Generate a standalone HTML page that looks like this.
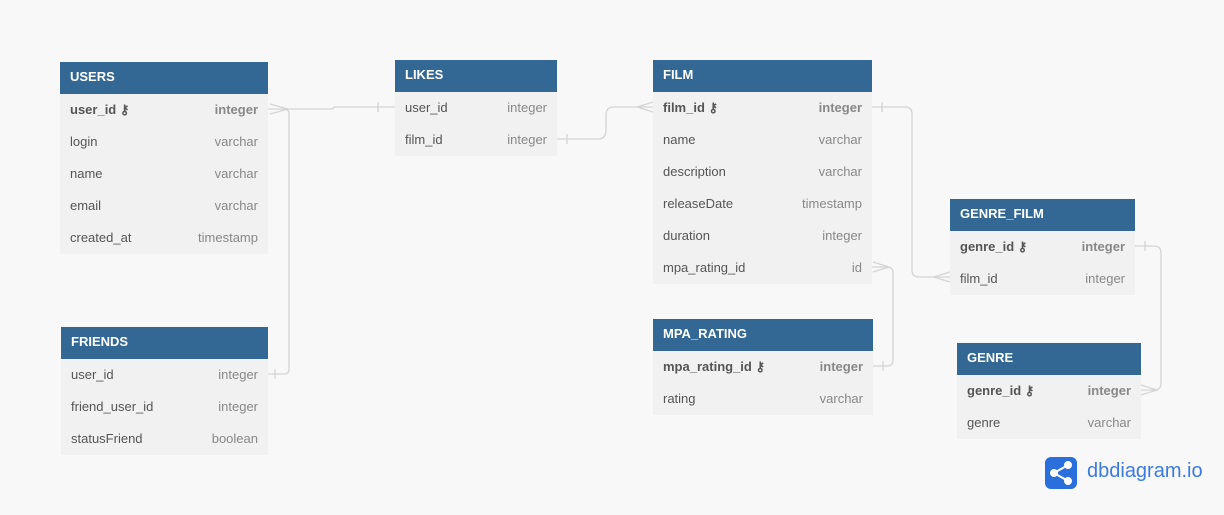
<!DOCTYPE html><html><head><style>
body{margin:0;width:1224px;height:515px;background:#f8f8f9;font-family:"Liberation Sans",sans-serif;position:relative;overflow:hidden}
.t{position:absolute;background:#f1f1f1}
.h{background:#336894;color:#fff;font-weight:bold;font-size:13px;height:32px;line-height:30px;padding-left:10px}
.r{height:32px;line-height:31px;font-size:13px;color:#555;padding:0 10px;display:flex;justify-content:space-between}
.r span:last-child{color:#888}
.b span{font-weight:bold}
.b span:first-child{color:#555}
svg{position:absolute;left:0;top:0}
</style></head><body>
<svg width="1224" height="515" fill="none" stroke="#d4d4d4" stroke-width="1.3">
<path d="M268 109 H330 Q334 109 334 107 H395"/><path d="M378 102 v10"/>
<path d="M270 104 L288 109 L270 114"/>
<path d="M268 374 H284 Q289 374 289 369 V114 Q289 109 284 109"/><path d="M275 369 v10"/>
<path d="M557 139 H598 Q606 139 606 130 V115 Q606 107 614 107 H653"/><path d="M567 134 v10"/><path d="M653 102 L637 107 L653 112"/>
<path d="M872 107 H905 Q912 107 912 114 V270 Q912 277 919 277 H950"/><path d="M882 102 v10"/><path d="M950 272 L934 277 L950 282"/>
<path d="M872 267 H887 Q893 267 893 273 V360 Q893 366 887 366 H873"/><path d="M873 262 L889 267 L873 272"/><path d="M883 361 v10"/>
<path d="M1135 246 H1154 Q1161 246 1161 253 V383 Q1161 390 1154 390 H1141"/><path d="M1145 241 v10"/><path d="M1141 385 L1157 390 L1141 395"/>
</svg>
<div class="t" style="left:60px;top:62px;width:208px"><div class="h">USERS</div>
<div class="r b"><span>user_id ⚷</span><span>integer</span></div><div class="r"><span>login</span><span>varchar</span></div><div class="r"><span>name</span><span>varchar</span></div><div class="r"><span>email</span><span>varchar</span></div><div class="r"><span>created_at</span><span>timestamp</span></div></div>
<div class="t" style="left:61px;top:327px;width:207px"><div class="h">FRIENDS</div>
<div class="r"><span>user_id</span><span>integer</span></div><div class="r"><span>friend_user_id</span><span>integer</span></div><div class="r"><span>statusFriend</span><span>boolean</span></div></div>
<div class="t" style="left:395px;top:60px;width:162px"><div class="h">LIKES</div>
<div class="r"><span>user_id</span><span>integer</span></div><div class="r"><span>film_id</span><span>integer</span></div></div>
<div class="t" style="left:653px;top:60px;width:219px"><div class="h">FILM</div>
<div class="r b"><span>film_id ⚷</span><span>integer</span></div><div class="r"><span>name</span><span>varchar</span></div><div class="r"><span>description</span><span>varchar</span></div><div class="r"><span>releaseDate</span><span>timestamp</span></div><div class="r"><span>duration</span><span>integer</span></div><div class="r"><span>mpa_rating_id</span><span>id</span></div></div>
<div class="t" style="left:950px;top:199px;width:185px"><div class="h">GENRE_FILM</div>
<div class="r b"><span>genre_id ⚷</span><span>integer</span></div><div class="r"><span>film_id</span><span>integer</span></div></div>
<div class="t" style="left:653px;top:319px;width:220px"><div class="h">MPA_RATING</div>
<div class="r b"><span>mpa_rating_id ⚷</span><span>integer</span></div><div class="r"><span>rating</span><span>varchar</span></div></div>
<div class="t" style="left:957px;top:343px;width:184px"><div class="h">GENRE</div>
<div class="r b"><span>genre_id ⚷</span><span>integer</span></div><div class="r"><span>genre</span><span>varchar</span></div></div>
<div style="position:absolute;left:1045px;top:457px;width:32px;height:32px;border-radius:6px;background:#2a6fdb"></div>
<svg width="1224" height="515" stroke="#fff" stroke-width="2" fill="#fff"><path d="M1068 465 L1054 473 L1068 481" fill="none"/><circle cx="1054" cy="473" r="3"/><circle cx="1068" cy="465" r="3"/><circle cx="1068" cy="481" r="3"/></svg>
<div style="position:absolute;left:1087px;top:460px;font-size:20px;color:#3b7be0">dbdiagram.io</div>
</body></html>
